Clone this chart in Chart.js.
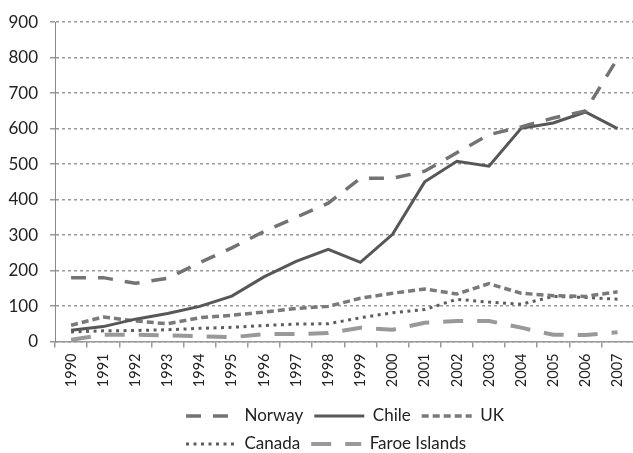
<!DOCTYPE html>
<html>
<head>
<meta charset="utf-8">
<script src="https://cdn.jsdelivr.net/npm/chart.js@4/dist/chart.umd.min.js"></script>
<style>
html,body{margin:0;padding:0;background:#fff;overflow:hidden;width:633px;height:453px;}
#wrap{width:641px;height:453px;}
</style>
</head>
<body>
<div id="wrap"><canvas id="c" width="641" height="453"></canvas></div>
<script>
const years = ['1990','1991','1992','1993','1994','1995','1996','1997','1998','1999','2000','2001','2002','2003','2004','2005','2006','2007'];
const norway = [180,180,164,178,222,264,310,350,390,460,460,480,532,583,605,630,650,798];
const chile  = [32,42,63,79,99,128,182,226,260,223,302,450,508,494,601,616,647,600];
const uk     = [46,69,58,50,67,74,83,93,99,122,136,148,134,163,136,129,127,140];
const canada = [27,30,31,33,37,40,45,49,50,67,81,90,119,111,105,127,124,119];
const faroe  = [5,19,19,17,15,12,21,21,24,39,33,53,58,58,39,19,18,26];
const yTicks = [0,100,200,300,400,500,600,700,800,900];

const LEGEND_W = 360;

// make the legend fit its rows within LEGEND_W (so Canada starts the second row)
const legendPlugin = Chart.registry.getPlugin('legend');
if (legendPlugin && legendPlugin._element) {
  const proto = legendPlugin._element.prototype;
  const origFit = proto._fitRows;
  proto._fitRows = function(...args) {
    const mw = this.maxWidth;
    this.maxWidth = Math.min(mw, LEGEND_W);
    const r = origFit.apply(this, args);
    this.maxWidth = mw;
    return r;
  };
}

function ds(label, data, color, width, dash) {
  return {label, data, borderColor: color, backgroundColor: color, borderWidth: width,
    borderDash: dash, pointRadius: 0, pointHoverRadius: 0, tension: 0, fill: false, pointStyle: 'line'};
}

const legendPlace = {
  id: 'legendPlace',
  afterLayout(chart) {
    const L = chart.legend;
    if (!L) return;
    const h = L.height;
    L.left = 175; L.right = 175 + LEGEND_W; L.width = LEGEND_W;
    L.top = 396.5; L.bottom = L.top + h;
  }
};

new Chart(document.getElementById('c'), {
  type: 'line',
  data: {
    labels: years,
    datasets: [
      ds('Norway', norway, '#737373', 3.5, [15, 12]),
      ds('Chile', chile, '#575757', 3, []),
      ds('UK', uk, '#7a7a7a', 3.5, [7, 4]),
      ds('Canada', canada, '#5e5e5e', 3, [3, 4.5]),
      ds('Faroe Islands', faroe, '#999999', 4, [20, 14])
    ]
  },
  plugins: [legendPlace],
  options: {
    responsive: false,
    animation: false,
    layout: {padding: {top: 14, left: 0, right: 1, bottom: -9}},
    scales: {
      x: {
        type: 'category',
        offset: true,
        grid: {display: true, drawOnChartArea: false, drawTicks: true, tickLength: 6, offset: true, color: '#999', lineWidth: 1.5},
        border: {display: true, color: '#999', width: 1.5},
        ticks: {minRotation: 90, maxRotation: 90, padding: 6, color: '#222', font: {family: 'Lato', size: 14.5}, autoSkip: false},
        afterFit: s => { s.height = 54.5; }
      },
      y: {
        min: 0, max: 900,
        afterBuildTicks: s => { s.ticks = yTicks.map(v => ({value: v})); },
        grid: {color: '#999', lineWidth: 1.5, tickLength: 5, drawTicks: true},
        border: {display: true, color: '#8a8a8a', width: 1, dash: [3, 3]},
        ticks: {padding: 12, color: '#222', font: {family: 'Lato', size: 17}},
        afterFit: s => { s.width = 55; }
      }
    },
    plugins: {
      tooltip: {enabled: false},
      legend: {
        position: 'bottom',
        fullSize: false,
        align: 'start',
        maxWidth: LEGEND_W,
        labels: {
          usePointStyle: true,
          pointStyle: 'line',
          pointStyleWidth: 50,
          padding: 11,
          color: '#222',
          font: {family: 'Lato', size: 17},
          generateLabels: chart => chart.data.datasets.map((d, i) => ({
            text: d.label,
            strokeStyle: d.borderColor,
            fillStyle: d.borderColor,
            lineWidth: d.borderWidth,
            lineDash: d.borderDash,
            lineCap: 'butt',
            pointStyle: 'line',
            fontColor: '#222',
            hidden: false,
            datasetIndex: i
          }))
        }
      }
    }
  }
});
</script>
</body>
</html>
